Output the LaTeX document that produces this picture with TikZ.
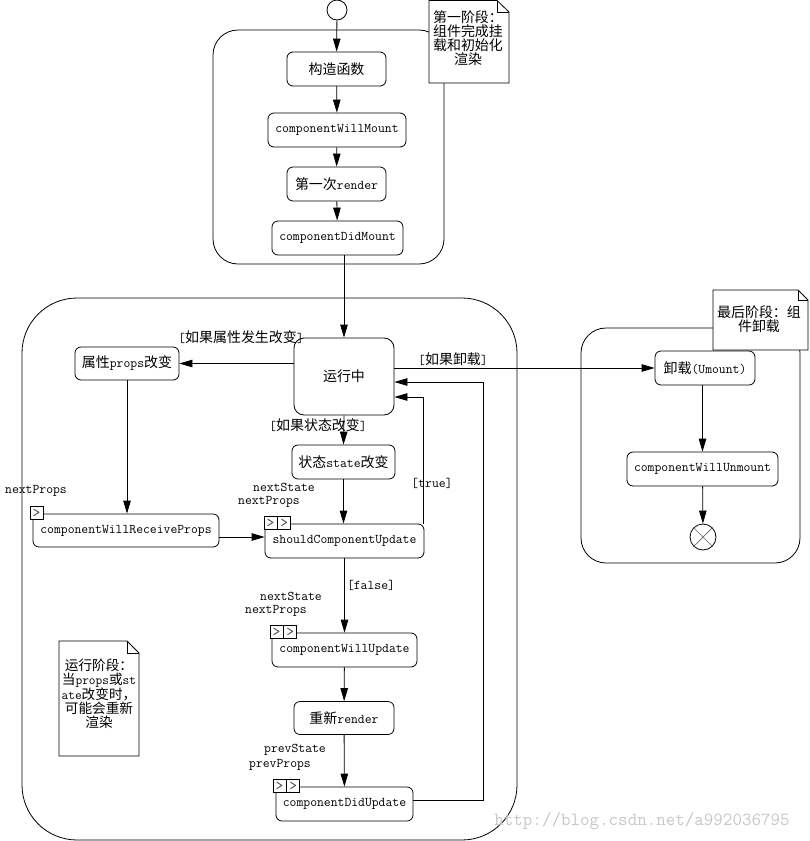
\documentclass[tikz,border=0pt]{standalone}
\usepackage{fontspec}
\newfontfamily\cj{Noto Sans CJK SC}[Scale=1.05]
\usetikzlibrary{arrows.meta,calc}
\newcommand\fnt{\fontsize{13.3}{15}\selectfont\ttfamily}
\newcommand\nfnt{\fontsize{13.3}{13.8}\selectfont\ttfamily}
\begin{document}
\begin{tikzpicture}[x=1pt,y=-1pt,
  line width=0.8pt,
  box/.style={draw, rounded corners=6pt, fill=white, inner sep=0pt, font=\fnt, minimum height=34pt},
  lbl/.style={inner sep=0pt, font=\fnt},
  pinbox/.style={draw, fill=white, minimum size=13pt, inner sep=0pt, font=\fontsize{15}{15}\selectfont\ttfamily, text=black!75, anchor=west},
  arr/.style={-{Triangle[length=13pt,width=7.5pt]}},
  container/.style={draw, fill=white},
  notebody/.style={draw, fill=white},
  notetext/.style={inner sep=0pt, align=center, font=\nfnt}
]
\useasboundingbox (0,0) rectangle (809,841);

% containers
\draw[container, rounded corners=25pt] (213,30) rectangle (444,264);
\draw[container, rounded corners=55pt] (22,298) rectangle (517,840);
\draw[container, rounded corners=25pt] (581,328) rectangle (800,563);

% watermark
\node[inner sep=0pt, font=\fontsize{18.5}{20}\selectfont\ttfamily, text=black!22] (wm) at (642,821) {http://blog.csdn.net/a992036795};

% notes
\draw[notebody] (429,0.5) -- (497,0.5) -- (509,12) -- (509,83) -- (429,83) -- cycle;
\draw (497,0.5) -- (497,12) -- (509,12);
\node[notetext] (n1) at (468,38) {{\cj 第一阶段：}\\{\cj 组件完成挂}\\{\cj 载和初始化}\\{\cj 渲染}};

\draw[notebody] (713,290) -- (798,290) -- (808,300) -- (808,350) -- (713,350) -- cycle;
\draw (798,290) -- (798,300) -- (808,300);
\node[notetext] (n2) at (759,319) {{\cj 最后阶段：组}\\{\cj 件卸载}};

\draw[notebody] (59,641) -- (127,641) -- (139,653) -- (139,756) -- (59,756) -- cycle;
\draw (127,641) -- (127,653) -- (139,653);
\node[notetext, font=\fontsize{13}{14}\selectfont\ttfamily] (n3) at (99,694) {{\cj 运行阶段：}\\{\cj 当}props{\cj 或}st\\ate{\cj 改变时，}\\{\cj 可能会重新}\\{\cj 渲染}};

% start / end
\node[draw, circle, fill=white, minimum size=20pt, inner sep=0pt] (start) at (337,10) {};
\node[draw, circle, fill=white, minimum size=26pt, inner sep=0pt] (fin) at (703,537) {};
\draw[black!60, line width=0.7pt] ($(fin)+(-9.2,-9.2)$) -- ($(fin)+(9.2,9.2)$);
\draw[black!60, line width=0.7pt] ($(fin)+(-9.2,9.2)$) -- ($(fin)+(9.2,-9.2)$);

% top stage
\node[box, minimum width=99pt] (ctor) at (336.5,69) {\cj 构造函数};
\node[box, minimum width=138pt] (cwm) at (337,130) {componentWillMount};
\node[box, minimum width=99pt] (r1) at (336.5,184) {{\cj 第一次}render};
\node[box, minimum width=131pt] (cdm) at (337.5,238) {componentDidMount};

% running stage
\node[box, rounded corners=10pt, minimum width=100pt, minimum height=77pt] (run) at (344,376.5) {\cj 运行中};
\node[box, minimum width=104pt, minimum height=33pt] (props) at (127,363.5) {{\cj 属性}props{\cj 改变}};
\node[box, minimum width=103pt] (state) at (343.5,462) {{\cj 状态}state{\cj 改变}};
\node[box, minimum width=186pt, minimum height=33pt] (cwrp) at (126,530.5) {componentWillReceiveProps};
\node[box, minimum width=159pt] (scu) at (344.5,541) {shouldComponentUpdate};
\node[box, minimum width=145pt] (cwu) at (344.5,650) {componentWillUpdate};
\node[box, minimum width=100pt, minimum height=33pt] (rr) at (344,718) {{\cj 重新}render};
\node[box, minimum width=137pt] (cdu) at (344.5,804) {componentDidUpdate};

% unmount stage
\node[box, minimum width=100pt] (um) at (705,368) {{\cj 卸载}(Umount)};
\node[box, minimum width=151pt] (cwun) at (702.5,469) {componentWillUnmount};

% pins
\node[pinbox] (p1) at ($(cwrp.north west)+(-3,-0.5)$) {>};
\node[pinbox] (p2a) at ($(scu.north west)+(-1,-0.5)$) {>};
\node[pinbox] (p2b) at (p2a.east) {>};
\node[pinbox] (p3a) at ($(cwu.north west)+(-2,-0.5)$) {>};
\node[pinbox] (p3b) at (p3a.east) {>};
\node[pinbox] (p4a) at ($(cdu.north west)+(-3,-0.5)$) {>};
\node[pinbox] (p4b) at (p4a.east) {>};

% labels
\node[lbl] (l1) at (241,337) {[{\cj 如果属性发生改变}]};
\node[lbl] (l2) at (453,359) {[{\cj 如果卸载}]};
\node[lbl] (l3) at (318,425) {[{\cj 如果状态改变}]};
\node[lbl] (l4) at (432,483) {[true]};
\node[lbl] (l5) at (371,585) {[false]};
\node[lbl] (a1) at (284,487) {nextState};
\node[lbl] (a2) at (269,502) {nextProps};
\node[lbl] (a3) at (36,491) {nextProps};
\node[lbl] (a4) at (291,596) {nextState};
\node[lbl] (a5) at (276,611) {nextProps};
\node[lbl] (a6) at (295,750) {prevState};
\node[lbl] (a7) at (280,765) {prevProps};

% coordinates
\coordinate (h) at (0,537);
\coordinate (t) at (423,397);
\coordinate (rt) at (483,800);
\coordinate (rtop) at (483,382);

% connectors
\draw[arr] (start) -- (ctor);
\draw[arr] (ctor) -- (cwm);
\draw[arr] (cwm) -- (r1);
\draw[arr] (r1) -- (cdm);
\draw[arr] (cdm.south -| run.north) -- (run.north);
\draw[arr] (run.west |- props.east) -- (props.east);
\draw[arr] (run.east |- um.west) -- (um.west);
\draw[arr] (run.south) -- (state.north);
\draw[arr] (props.south) -- (props.south |- cwrp.north);
\draw[arr] (cwrp.east |- h) -- (scu.west |- h);
\draw[arr] (state.south) -- (scu.north -| state.south);
\draw[arr] (scu.north -| t) -- (t) -- (t -| run.east);
\draw[arr] (scu.south) -- (cwu.north);
\draw[arr] (cwu) -- (rr);
\draw[arr] (rr) -- (cdu);
\draw[arr] (cdu.east |- rt) -- (rt) -- (rtop) -- (rtop -| run.east);
\draw[arr] (cwun.north |- um.south) -- (cwun.north);
\draw[arr] (cwun) -- (fin);
\end{tikzpicture}
\end{document}
